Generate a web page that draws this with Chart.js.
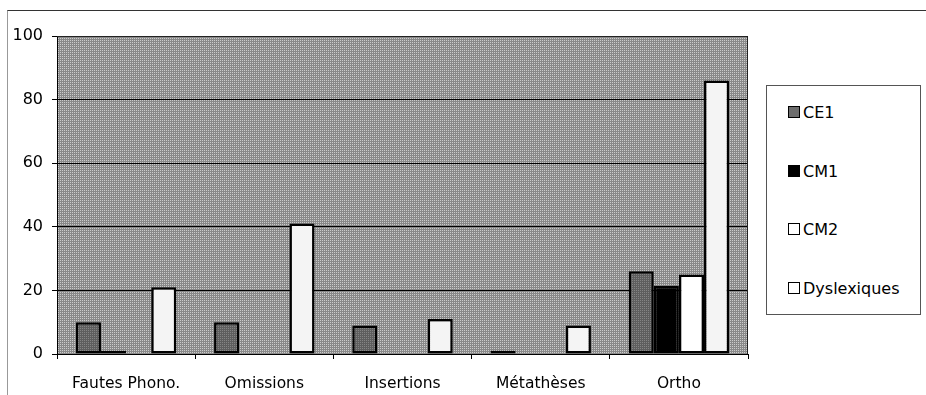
<!DOCTYPE html>
<html>
<head>
<meta charset="utf-8">
<script src="https://cdn.jsdelivr.net/npm/chart.js@4.4.0/dist/chart.umd.min.js"></script>
<style>
  html, body { margin: 0; padding: 0; background: #fff; }
  #wrap { position: relative; width: 926px; height: 395px; overflow: hidden; }
  #frame { position: absolute; left: 7px; top: 10px; right: 0; bottom: 0;
           border-top: 1px solid #333; border-left: 1px solid #999; }
  #chart { position: absolute; left: 0; top: 0; }
  #legend { position: absolute; left: 766px; top: 85px; width: 155px; height: 230px;
            border: 1px solid #555; background: #fff; box-sizing: border-box; }
  .item { position: absolute; left: 21px; height: 16px; display: flex; align-items: center;
          font-family: 'DejaVu Sans', sans-serif; font-size: 16px; color: #000; white-space: nowrap; }
  .sw { width: 10px; height: 10px; border: 1.5px solid #000; margin-right: 3px; }
</style>
</head>
<body>
<div id="wrap">
  <div id="frame"></div>
  <canvas id="chart" width="926" height="395"></canvas>
  <div id="legend"></div>
</div>
<script>
// ── Data ──
const categories = ['Fautes Phono.', 'Omissions', 'Insertions', 'Métathèses', 'Ortho'];
const ce1 = [10, 10, 9, 1, 26];
const cm1 = [1, 0, 0, 0, 21.5];
const cm2 = [0, 0, 0, 0, 25];
const dyslexiques = [21, 41, 11, 9, 86];
const yTicks = [0, 20, 40, 60, 80, 100];

const FONT = "'DejaVu Sans', sans-serif";

// dithered-looking fill for the plot area
function makePattern(a, b) {
    const c = document.createElement('canvas');
    c.width = 2; c.height = 2;
    const g = c.getContext('2d');
    g.fillStyle = a; g.fillRect(0, 0, 2, 2);
    g.fillStyle = b; g.fillRect(0, 0, 1, 1);
    return g.createPattern(c, 'repeat');
}

const ctx = document.getElementById('chart').getContext('2d');
const plotFill = makePattern('#898989', '#cccccc');
const ce1Fill = makePattern('#5e5e5e', '#858585');

const series = [
    { label: 'CE1', data: ce1, fill: ce1Fill, swatch: '#6d6d6d' },
    { label: 'CM1', data: cm1, fill: '#000000', swatch: '#000000' },
    { label: 'CM2', data: cm2, fill: '#ffffff', swatch: '#ffffff' },
    { label: 'Dyslexiques', data: dyslexiques, fill: '#f4f4f4', swatch: '#ffffff' },
];

const plotBg = {
    id: 'plotBg',
    beforeDraw(chart) {
        const a = chart.chartArea, c = chart.ctx;
        c.save();
        c.fillStyle = plotFill;
        c.fillRect(a.left, a.top, a.right - a.left, a.bottom - a.top);
        c.restore();
    },
    afterDatasetsDraw(chart) {
        const a = chart.chartArea, c = chart.ctx;
        c.save();
        c.strokeStyle = '#222';
        c.lineWidth = 1;
        c.beginPath();
        c.moveTo(a.left, a.top + 0.5);
        c.lineTo(a.right - 0.5, a.top + 0.5);
        c.lineTo(a.right - 0.5, a.bottom);
        c.stroke();
        c.restore();
    }
};

new Chart(ctx, {
    type: 'bar',
    data: {
        labels: categories,
        datasets: series.map(s => ({
            label: s.label,
            data: s.data,
            backgroundColor: s.fill,
            borderColor: '#000',
            borderWidth: 2.5,
            borderSkipped: false,
            categoryPercentage: 4 / 5.5,
            barPercentage: 1,
        }))
    },
    options: {
        responsive: false,
        animation: false,
        layout: { padding: { left: 0, top: 36, right: 178, bottom: 0 } },
        plugins: { legend: { display: false }, tooltip: { enabled: false } },
        scales: {
            x: {
                grid: { drawOnChartArea: false, color: '#000', tickLength: 5 },
                border: { color: '#000', width: 1 },
                ticks: { color: '#000', font: { family: FONT, size: 15.5 }, padding: 16, maxRotation: 0 },
                afterFit: s => { s.height = 41; }
            },
            y: {
                min: 0,
                max: 100,
                afterBuildTicks: s => { s.ticks = yTicks.map(v => ({ value: v })); },
                grid: { color: '#000', lineWidth: 1, tickLength: 5 },
                border: { color: '#000', width: 1 },
                ticks: { color: '#000', font: { family: FONT, size: 16 }, padding: 9 },
                afterFit: s => { s.width = 57; }
            }
        }
    },
    plugins: [plotBg]
});

// ── Legend ──
const legend = document.getElementById('legend');
const itemTops = [18, 77, 135, 194];
legend.innerHTML = series.map((s, i) => `
    <div class="item" style="top:${itemTops[i]}px">
        <div class="sw" style="background:${s.swatch}"></div>${s.label}
    </div>`).join('');
</script>
</body>
</html>
